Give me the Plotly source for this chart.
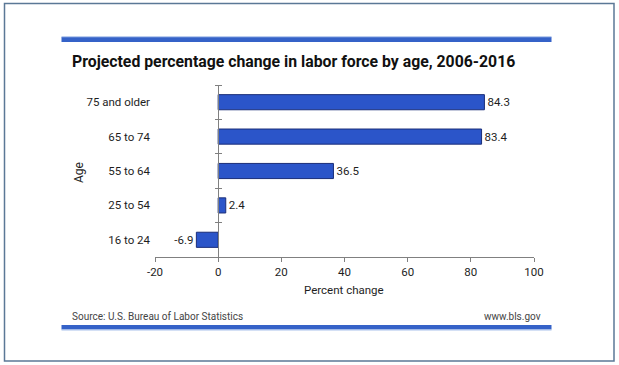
import plotly.graph_objects as go

categories = ["16 to 24", "25 to 54", "55 to 64", "65 to 74", "75 and older"]
values = [-6.9, 2.4, 36.5, 83.4, 84.3]
value_labels = ["-6.9", "2.4", "36.5", "83.4", "84.3"]
x_ticks = [-20, 0, 20, 40, 60, 80, 100]
x_tick_labels = ["-20", "0", "20", "40", "60", "80", "100"]

title_text = "Projected percentage change in labor force by age, 2006-2016"
source_text = "Source: U.S. Bureau of Labor Statistics"
site_text = "www.bls.gov"
x_title = "Percent change"
y_title = "Age"

W, H = 619, 365
L, R, T, B = 155, 534, 85, 257
XMIN, XMAX = -20, 100

def px(x):
    return (x - L) / (R - L)

def py(y):
    return (B - y) / (B - T)

FONT = "Roboto, Lato, sans-serif"
AXIS_GRAY = "#808080"
BLUE = "#3562c8"
TXT = "#1e1e1e"

fig = go.Figure()
fig.add_trace(go.Bar(
    y=categories, x=values, orientation="h",
    text=value_labels, textposition="outside", cliponaxis=False,
    textfont=dict(family=FONT, size=11.5, color=TXT),
    marker=dict(color="#2b55c9", line=dict(color="#1a2d78", width=1)),
    hoverinfo="skip", showlegend=False,
))
# helper traces to draw the vertical axis at x = 0
fig.add_trace(go.Scatter(x=[None], y=[None], yaxis="y2", showlegend=False, hoverinfo="skip"))
fig.add_trace(go.Scatter(x=[None], y=[None], yaxis="y3", showlegend=False, hoverinfo="skip"))

zero_pos = (0 - XMIN) / (XMAX - XMIN)
bounds = [i - 0.5 for i in range(len(categories) + 1)]

fig.update_layout(
    width=W, height=H,
    margin=dict(l=L, r=W - R, t=T, b=H - B, autoexpand=False),
    paper_bgcolor="white", plot_bgcolor="white",
    bargap=0.56,
    font=dict(family=FONT, size=12, color=TXT),
    xaxis=dict(
        range=[XMIN, XMAX], tickvals=x_ticks, ticktext=x_tick_labels,
        ticks="outside", ticklen=4,
        tickcolor=AXIS_GRAY, showline=True, linecolor=AXIS_GRAY, linewidth=1,
        showgrid=False, zeroline=False,
        tickfont=dict(family=FONT, size=11.5, color=TXT),
    ),
    yaxis=dict(
        type="category", categoryorder="array", categoryarray=categories,
        range=[-0.5, len(categories) - 0.5],
        showline=False, ticks="", showgrid=False, zeroline=False,
        tickfont=dict(family=FONT, size=11.5, color=TXT),
        ticklabelstandoff=4,
    ),
    yaxis2=dict(
        overlaying="y", anchor="free", position=zero_pos, side="left",
        range=[-0.5, len(categories) - 0.5], tickvals=bounds,
        showticklabels=False, ticks="outside", ticklen=3, tickcolor=AXIS_GRAY,
        showline=True, linecolor=AXIS_GRAY, linewidth=1, showgrid=False, zeroline=False,
    ),
    yaxis3=dict(
        overlaying="y", anchor="free", position=zero_pos, side="right",
        range=[-0.5, len(categories) - 0.5], tickvals=bounds,
        showticklabels=False, ticks="outside", ticklen=3, tickcolor=AXIS_GRAY,
        showline=False, showgrid=False, zeroline=False,
    ),
)

shapes = [
    # outer frame
    dict(type="rect", xref="paper", yref="paper", x0=px(4.5), x1=px(614), y0=py(3.5), y1=py(361),
         line=dict(color="#5b7896", width=1.5), fillcolor="rgba(0,0,0,0)", layer="below"),
    # top blue rule
    dict(type="rect", xref="paper", yref="paper", x0=px(61.5), x1=px(551.5), y0=py(37), y1=py(42),
         line=dict(width=0), fillcolor=BLUE),
    dict(type="line", xref="paper", yref="paper", x0=px(61.5), x1=px(551.5), y0=py(36.8), y1=py(36.8),
         line=dict(color="#9fb8e8", width=1)),
    # bottom blue rule
    dict(type="rect", xref="paper", yref="paper", x0=px(61.5), x1=px(551.5), y0=py(325), y1=py(329.5),
         line=dict(width=0), fillcolor=BLUE),
    dict(type="line", xref="paper", yref="paper", x0=px(61.5), x1=px(551.5), y0=py(330), y1=py(330),
         line=dict(color="#a9c2ec", width=1)),
]
fig.update_layout(shapes=shapes)

annotations = [
    dict(text="<b>" + title_text + "</b>", xref="paper", yref="paper", x=px(70), y=py(61.5),
         xanchor="left", yanchor="middle", showarrow=False,
         font=dict(family=FONT, size=15.8, color="#111111")),
    dict(text=x_title, xref="paper", yref="paper", x=px(344), y=py(290),
         xanchor="center", yanchor="middle", showarrow=False,
         font=dict(family=FONT, size=11.5, color=TXT)),
    dict(text=y_title, xref="paper", yref="paper", x=px(79), y=py(173),
         xanchor="center", yanchor="middle", showarrow=False, textangle=-90,
         font=dict(family=FONT, size=12, color=TXT)),
    dict(text=source_text, xref="paper", yref="paper", x=px(70), y=py(316.5),
         xanchor="left", yanchor="middle", showarrow=False,
         font=dict(family=FONT, size=10, color="#444444")),
    dict(text=site_text, xref="paper", yref="paper", x=px(543), y=py(316.5),
         xanchor="right", yanchor="middle", showarrow=False,
         font=dict(family=FONT, size=10, color="#444444")),
]
fig.update_layout(annotations=annotations)

fig.write_html(
    "out.html",
    config={"displayModeBar": False},
    post_script="document.body.style.margin='0px';document.body.style.padding='0px';",
)
